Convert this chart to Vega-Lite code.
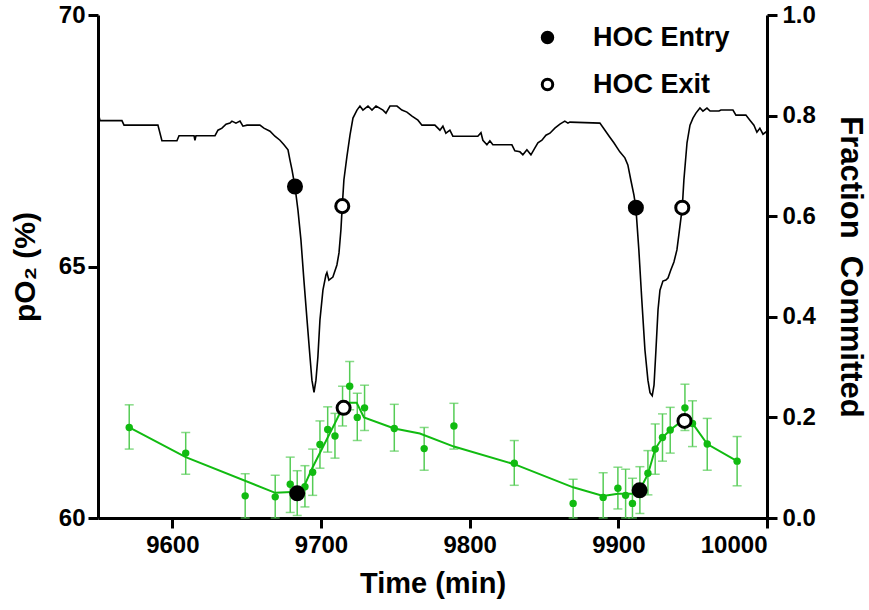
{
  "$schema": "https://vega.github.io/schema/vega-lite/v6.json",
  "width": 669,
  "height": 503,
  "autosize": {"type": "none"},
  "padding": {"left": 98, "top": 15, "right": 102, "bottom": 92},
  "background": "white",
  "config": {
    "view": {"stroke": null},
    "font": "Liberation Sans",
    "axis": {
      "grid": false,
      "domainColor": "black",
      "domainWidth": 3,
      "tickColor": "black",
      "tickWidth": 3,
      "tickSize": 10,
      "labelFont": "Liberation Sans",
      "labelFontWeight": "bold",
      "labelFontSize": 24,
      "labelColor": "black",
      "titleFont": "Liberation Sans",
      "titleFontWeight": "bold",
      "titleFontSize": 29,
      "titleColor": "black"
    },
    "legend": {
      "labelFont": "Liberation Sans",
      "labelFontWeight": "bold",
      "labelFontSize": 27,
      "labelColor": "black"
    }
  },
  "datasets": {
    "po2": [
      {"t": 9550, "p": 68.09}, {"t": 9551.3, "p": 67.9}, {"t": 9566.1, "p": 67.9}, {"t": 9567.5, "p": 67.81},
      {"t": 9590.3, "p": 67.81}, {"t": 9593, "p": 67.5}, {"t": 9603.1, "p": 67.5}, {"t": 9604.5, "p": 67.6},
      {"t": 9614.6, "p": 67.6}, {"t": 9615.2, "p": 67.51}, {"t": 9615.9, "p": 67.6}, {"t": 9628.7, "p": 67.6},
      {"t": 9630.7, "p": 67.71}, {"t": 9633.4, "p": 67.75}, {"t": 9636.1, "p": 67.83}, {"t": 9638.8, "p": 67.85},
      {"t": 9640.1, "p": 67.89}, {"t": 9642.8, "p": 67.85}, {"t": 9645.5, "p": 67.89}, {"t": 9647.5, "p": 67.79},
      {"t": 9650.2, "p": 67.81}, {"t": 9658.9, "p": 67.81}, {"t": 9661.6, "p": 67.75}, {"t": 9665.7, "p": 67.69},
      {"t": 9669, "p": 67.59}, {"t": 9672.4, "p": 67.51}, {"t": 9675.1, "p": 67.42}, {"t": 9677.8, "p": 67.32},
      {"t": 9679.1, "p": 67.12}, {"t": 9680.5, "p": 66.92}, {"t": 9682.5, "p": 66.59}, {"t": 9684.5, "p": 66.12},
      {"t": 9686.5, "p": 65.53}, {"t": 9688.5, "p": 64.73}, {"t": 9690.6, "p": 63.94}, {"t": 9692.6, "p": 63.2},
      {"t": 9693.9, "p": 62.74}, {"t": 9695.3, "p": 62.5}, {"t": 9696.6, "p": 62.74}, {"t": 9697.9, "p": 63.2},
      {"t": 9699.3, "p": 63.94}, {"t": 9701.3, "p": 64.53}, {"t": 9703.3, "p": 64.83}, {"t": 9704, "p": 64.88},
      {"t": 9705.3, "p": 64.73}, {"t": 9708, "p": 64.79}, {"t": 9710.7, "p": 65.03}, {"t": 9712.1, "p": 65.27},
      {"t": 9713.4, "p": 65.73}, {"t": 9714.3, "p": 66.2}, {"t": 9715.4, "p": 66.72}, {"t": 9717.4, "p": 67.18},
      {"t": 9719.5, "p": 67.61}, {"t": 9721.5, "p": 67.95}, {"t": 9724.2, "p": 68.11}, {"t": 9726.2, "p": 68.19},
      {"t": 9728.2, "p": 68.11}, {"t": 9731.6, "p": 68.19}, {"t": 9734.3, "p": 68.11}, {"t": 9737, "p": 68.19},
      {"t": 9741.7, "p": 68.11}, {"t": 9743.7, "p": 68.05}, {"t": 9746.4, "p": 68.19}, {"t": 9751.1, "p": 68.19},
      {"t": 9754.4, "p": 68.11}, {"t": 9757.8, "p": 68.07}, {"t": 9761.2, "p": 67.99}, {"t": 9765.2, "p": 67.91},
      {"t": 9767.9, "p": 67.81}, {"t": 9776.6, "p": 67.81}, {"t": 9780, "p": 67.71}, {"t": 9782, "p": 67.79},
      {"t": 9784, "p": 67.65}, {"t": 9786.7, "p": 67.71}, {"t": 9788.7, "p": 67.59}, {"t": 9805.5, "p": 67.59},
      {"t": 9807.6, "p": 67.66}, {"t": 9808.9, "p": 67.51}, {"t": 9811.6, "p": 67.42}, {"t": 9813.6, "p": 67.5},
      {"t": 9815.6, "p": 67.42}, {"t": 9828.4, "p": 67.42}, {"t": 9830.4, "p": 67.3}, {"t": 9833.8, "p": 67.28},
      {"t": 9835.8, "p": 67.22}, {"t": 9838.5, "p": 67.32}, {"t": 9841.2, "p": 67.22}, {"t": 9843.9, "p": 67.36},
      {"t": 9845.9, "p": 67.46}, {"t": 9848.6, "p": 67.51}, {"t": 9851.3, "p": 67.61}, {"t": 9854, "p": 67.65},
      {"t": 9857.3, "p": 67.75}, {"t": 9860.7, "p": 67.83}, {"t": 9864, "p": 67.89}, {"t": 9866.1, "p": 67.85},
      {"t": 9867.4, "p": 67.87}, {"t": 9887.6, "p": 67.85}, {"t": 9891, "p": 67.71}, {"t": 9894.3, "p": 67.57},
      {"t": 9897, "p": 67.46}, {"t": 9901, "p": 67.28}, {"t": 9904.4, "p": 67.16}, {"t": 9906.4, "p": 67.02},
      {"t": 9908.4, "p": 66.72}, {"t": 9910.5, "p": 66.42}, {"t": 9911.8, "p": 66.17}, {"t": 9913.8, "p": 65.33},
      {"t": 9915.8, "p": 64.33}, {"t": 9917.9, "p": 63.34}, {"t": 9919.9, "p": 62.74}, {"t": 9921.3, "p": 62.49},
      {"t": 9922.8, "p": 62.43}, {"t": 9924, "p": 62.64}, {"t": 9925.3, "p": 63.34}, {"t": 9926.7, "p": 64.14},
      {"t": 9928, "p": 64.53}, {"t": 9930, "p": 64.71}, {"t": 9932, "p": 64.73}, {"t": 9933.4, "p": 64.77},
      {"t": 9935.3, "p": 64.93}, {"t": 9937.4, "p": 65.09}, {"t": 9939.4, "p": 65.33}, {"t": 9940.7, "p": 65.63},
      {"t": 9943, "p": 66.17}, {"t": 9944.1, "p": 66.72}, {"t": 9946.2, "p": 67.46}, {"t": 9948.2, "p": 67.81},
      {"t": 9950.2, "p": 67.95}, {"t": 9952.2, "p": 68.05}, {"t": 9954.9, "p": 68.15}, {"t": 9956.9, "p": 68.09},
      {"t": 9959.6, "p": 68.15}, {"t": 9961.7, "p": 68.09}, {"t": 9967.7, "p": 68.09}, {"t": 9969, "p": 68.11},
      {"t": 9977.1, "p": 68.11}, {"t": 9979.1, "p": 68.01}, {"t": 9985.8, "p": 68.01}, {"t": 9988.5, "p": 67.91},
      {"t": 9991.2, "p": 67.81}, {"t": 9993.2, "p": 67.67}, {"t": 9995.2, "p": 67.75}, {"t": 9997.3, "p": 67.63},
      {"t": 10000, "p": 67.69}
    ],
    "frac": [
      {"t": 9571, "f": 0.18, "lo": 0.137, "hi": 0.225},
      {"t": 9609, "f": 0.129, "lo": 0.087, "hi": 0.17},
      {"t": 9649, "f": 0.044, "lo": 0.0, "hi": 0.088},
      {"t": 9669.2, "f": 0.042, "lo": 0.0, "hi": 0.085},
      {"t": 9679.3, "f": 0.067, "lo": 0.011, "hi": 0.121},
      {"t": 9684, "f": 0.05, "lo": 0.005, "hi": 0.094},
      {"t": 9689.2, "f": 0.062, "lo": 0.022, "hi": 0.104},
      {"t": 9694.4, "f": 0.091, "lo": 0.045, "hi": 0.137},
      {"t": 9699.3, "f": 0.146, "lo": 0.099, "hi": 0.193},
      {"t": 9704.5, "f": 0.176, "lo": 0.131, "hi": 0.221},
      {"t": 9709.4, "f": 0.163, "lo": 0.119, "hi": 0.208},
      {"t": 9714.5, "f": 0.225, "lo": 0.183, "hi": 0.262},
      {"t": 9719.3, "f": 0.262, "lo": 0.215, "hi": 0.311},
      {"t": 9724.4, "f": 0.2, "lo": 0.154, "hi": 0.248},
      {"t": 9729.3, "f": 0.219, "lo": 0.174, "hi": 0.264},
      {"t": 9749.3, "f": 0.178, "lo": 0.133, "hi": 0.226},
      {"t": 9769.4, "f": 0.138, "lo": 0.095, "hi": 0.18},
      {"t": 9789.4, "f": 0.183, "lo": 0.137, "hi": 0.228},
      {"t": 9830, "f": 0.109, "lo": 0.065, "hi": 0.154},
      {"t": 9869.6, "f": 0.029, "lo": 0.0, "hi": 0.077},
      {"t": 9889.8, "f": 0.041, "lo": 0.0, "hi": 0.09},
      {"t": 9899.7, "f": 0.059, "lo": 0.018, "hi": 0.101},
      {"t": 9904.9, "f": 0.045, "lo": 0.0, "hi": 0.097},
      {"t": 9909.5, "f": 0.029, "lo": 0.0, "hi": 0.079},
      {"t": 9914.5, "f": 0.056, "lo": 0.009, "hi": 0.102},
      {"t": 9919.9, "f": 0.089, "lo": 0.046, "hi": 0.134},
      {"t": 9924.8, "f": 0.137, "lo": 0.087, "hi": 0.187},
      {"t": 9929.7, "f": 0.16, "lo": 0.113, "hi": 0.207},
      {"t": 9934.9, "f": 0.175, "lo": 0.129, "hi": 0.22},
      {"t": 9944.8, "f": 0.219, "lo": 0.174, "hi": 0.266},
      {"t": 9949.9, "f": 0.188, "lo": 0.142, "hi": 0.233},
      {"t": 9959.8, "f": 0.147, "lo": 0.095, "hi": 0.198},
      {"t": 9979.9, "f": 0.113, "lo": 0.064, "hi": 0.162}
    ],
    "fit": [
      {"t": 9571, "f": 0.18}, {"t": 9609, "f": 0.121}, {"t": 9669.2, "f": 0.05}, {"t": 9684, "f": 0.052},
      {"t": 9688, "f": 0.059}, {"t": 9694.4, "f": 0.101}, {"t": 9710.5, "f": 0.195}, {"t": 9715.4, "f": 0.225},
      {"t": 9718.3, "f": 0.229}, {"t": 9724, "f": 0.229}, {"t": 9728.9, "f": 0.2}, {"t": 9749.3, "f": 0.178},
      {"t": 9766.5, "f": 0.168}, {"t": 9789.4, "f": 0.142}, {"t": 9830, "f": 0.107}, {"t": 9869.6, "f": 0.061},
      {"t": 9889.8, "f": 0.044}, {"t": 9899.7, "f": 0.048}, {"t": 9910, "f": 0.048}, {"t": 9914.5, "f": 0.056},
      {"t": 9919.9, "f": 0.087}, {"t": 9924.8, "f": 0.137}, {"t": 9929.7, "f": 0.16}, {"t": 9934.9, "f": 0.175},
      {"t": 9940.2, "f": 0.187}, {"t": 9944.8, "f": 0.193}, {"t": 9949.9, "f": 0.188}, {"t": 9959.8, "f": 0.147},
      {"t": 9979.9, "f": 0.113}
    ],
    "evp": [
      {"t": 9682.5, "p": 66.59, "event": "HOC Entry"},
      {"t": 9714.3, "p": 66.2, "event": "HOC Exit"},
      {"t": 9911.8, "p": 66.17, "event": "HOC Entry"},
      {"t": 9943, "p": 66.17, "event": "HOC Exit"}
    ],
    "evf": [
      {"t": 9684, "f": 0.049, "event": "HOC Entry"},
      {"t": 9715.2, "f": 0.219, "event": "HOC Exit"},
      {"t": 9914.3, "f": 0.055, "event": "HOC Entry"},
      {"t": 9944.5, "f": 0.193, "event": "HOC Exit"}
    ]
  },
  "resolve": {"scale": {"y": "independent"}},
  "layer": [
    {
      "layer": [
        {
          "data": {"name": "po2"},
          "mark": {"type": "line", "color": "black", "strokeWidth": 1.6, "clip": true},
          "encoding": {
            "x": {
              "field": "t", "type": "quantitative",
              "scale": {"domain": [9550, 10000], "nice": false, "zero": false},
              "axis": {"values": [9600, 9700, 9800, 9900, 10000], "format": "d", "title": "Time (min)", "labelPadding": 5, "titlePadding": 12}
            },
            "y": {
              "field": "p", "type": "quantitative",
              "scale": {"domain": [60, 70], "nice": false, "zero": false},
              "axis": {"orient": "left", "values": [60, 65, 70], "title": "pO₂ (%)", "titleFontSize": 30, "labelPadding": 3, "titlePadding": 18}
            }
          }
        },
        {
          "data": {"name": "evp"},
          "mark": {"type": "point", "shape": "circle", "size": 170, "stroke": "black", "strokeWidth": 3, "opacity": 1, "filled": false},
          "encoding": {
            "x": {"field": "t", "type": "quantitative"},
            "y": {"field": "p", "type": "quantitative"},
            "fill": {
              "field": "event", "type": "nominal",
              "scale": {"domain": ["HOC Entry", "HOC Exit"], "range": ["black", "white"]},
              "legend": {
                "title": null, "orient": "none", "legendX": 436, "legendY": 9,
                "symbolSize": 110, "symbolStrokeWidth": 3, "symbolStrokeColor": "black",
                "rowPadding": 19, "labelOffset": 32, "padding": 0
              }
            }
          }
        }
      ]
    },
    {
      "layer": [
        {
          "data": {"name": "frac"},
          "mark": {"type": "errorbar", "ticks": {"size": 9, "thickness": 1.5}, "color": "#55cc55", "thickness": 1.5},
          "encoding": {
            "x": {"field": "t", "type": "quantitative"},
            "y": {
              "field": "lo", "type": "quantitative",
              "scale": {"domain": [0, 1], "nice": false},
              "axis": {"orient": "right", "values": [0, 0.2, 0.4, 0.6, 0.8, 1.0], "format": ".1f", "title": "Fraction\u00a0\u00a0Committed", "titleFontSize": 31, "labelPadding": 5, "titlePadding": 18}
            },
            "y2": {"field": "hi"}
          }
        },
        {
          "data": {"name": "fit"},
          "mark": {"type": "line", "color": "#11bb11", "strokeWidth": 2},
          "encoding": {
            "x": {"field": "t", "type": "quantitative"},
            "y": {"field": "f", "type": "quantitative"}
          }
        },
        {
          "data": {"name": "frac"},
          "mark": {"type": "circle", "color": "#11bb11", "size": 55, "opacity": 1},
          "encoding": {
            "x": {"field": "t", "type": "quantitative"},
            "y": {"field": "f", "type": "quantitative"}
          }
        },
        {
          "data": {"name": "evf"},
          "mark": {"type": "point", "shape": "circle", "size": 170, "stroke": "black", "strokeWidth": 3, "opacity": 1, "filled": false},
          "encoding": {
            "x": {"field": "t", "type": "quantitative"},
            "y": {"field": "f", "type": "quantitative"},
            "fill": {"field": "event", "type": "nominal"}
          }
        }
      ]
    }
  ]
}
